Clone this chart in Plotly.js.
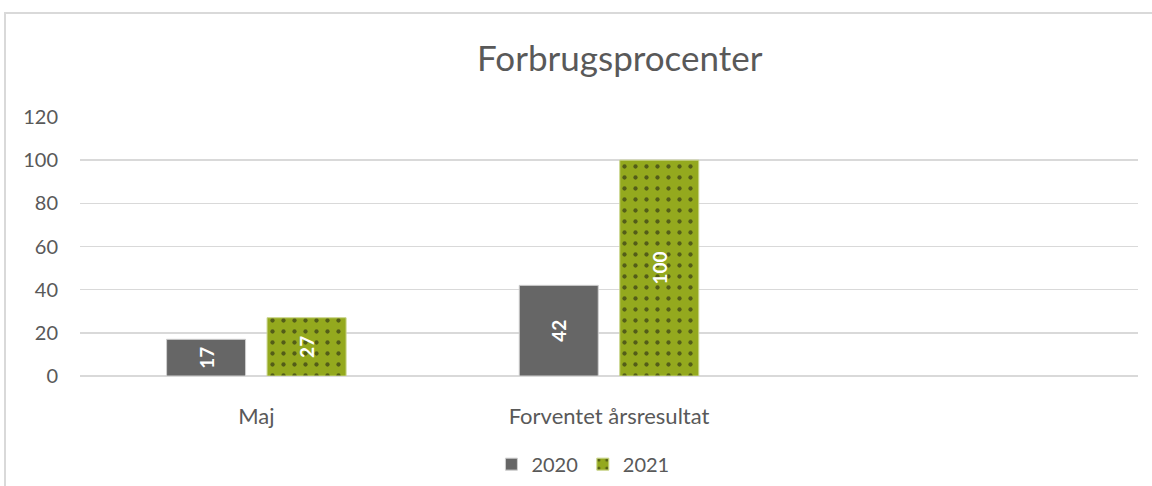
<!DOCTYPE html>
<html>
<head>
<meta charset="utf-8">
<script src="https://cdn.plot.ly/plotly-3.0.1.min.js"></script>
<style>
html,body{margin:0;padding:0;background:#fff;}
#chart{width:1152px;height:486px;position:absolute;left:0;top:0;}
#frame{position:absolute;left:4px;top:12px;width:1160px;height:490px;border-left:2px solid #d9d9d9;border-top:2px solid #d9d9d9;pointer-events:none;}
</style>
</head>
<body>
<div id="chart"></div>
<div id="frame"></div>
<script>
const categories = ['Maj', 'Forventet årsresultat', ' '];
const series2020 = [17, 42, null];
const series2021 = [27, 100, null];
const yTicks = [0, 20, 40, 60, 80, 100, 120];
const chartTitle = 'Forbrugsprocenter';

const fontFam = 'Lato, "Open Sans", sans-serif';
const labelFont = {family: fontFam, size: 19, color: '#ffffff', weight: 'bold'};

const traces = [
  {
    type: 'bar', name: '2020', x: categories, y: series2020,
    marker: {color: '#666666', line: {color: '#d0d0d0', width: 1}},
    text: series2020.map(v => v == null ? '' : String(v)),
    textposition: 'inside', textangle: -90, insidetextanchor: 'middle',
    textfont: labelFont, hoverinfo: 'x+y'
  },
  {
    type: 'bar', name: '2021', x: categories, y: series2021,
    marker: {color: '#94a91e', line: {color: '#c9d48a', width: 1},
      pattern: {shape: '.', fgcolor: '#111111', bgcolor: '#94a91e', size: 11, solidity: 0.12, fillmode: 'overlay'}},
    text: series2021.map(v => v == null ? '' : String(v)),
    textposition: 'inside', textangle: -90, insidetextanchor: 'middle',
    textfont: labelFont, hoverinfo: 'x+y'
  }
];

const layout = {
  width: 1152, height: 486,
  margin: {l: 80, r: 14, t: 117, b: 110},
  paper_bgcolor: '#ffffff', plot_bgcolor: '#ffffff',
  font: {family: fontFam, color: '#595959', size: 20},
  title: {text: chartTitle, x: 0.538, xanchor: 'center', y: 0.88, yanchor: 'middle',
    font: {family: fontFam, size: 35, color: '#595959'}},
  barmode: 'group', bargap: 0.43, bargroupgap: 0.214,
  xaxis: {type: 'category', showgrid: false, zeroline: false, showline: false,
    ticks: '', ticklabelstandoff: 25, tickfont: {size: 22, color: '#595959'}, fixedrange: true},
  yaxis: {range: [0, 120], tickvals: yTicks, ticktext: yTicks.map(String),
    showgrid: true, gridcolor: '#d9d9d9', gridwidth: 1.5, zeroline: true, zerolinecolor: '#d9d9d9', zerolinewidth: 1.5,
    showline: false, ticks: '', ticklabelstandoff: 21, tickfont: {size: 20, color: '#595959'}, fixedrange: true},
  showlegend: true,
  legend: {orientation: 'h', xref: 'container', yref: 'container', x: 0.506, xanchor: 'center', y: 0.045, yanchor: 'middle',
    font: {size: 20, color: '#595959'}, itemwidth: 30, tracegroupgap: 0, traceorder: 'normal'}
};

Plotly.newPlot('chart', traces, layout, {displayModeBar: false, staticPlot: true});
</script>
</body>
</html>
